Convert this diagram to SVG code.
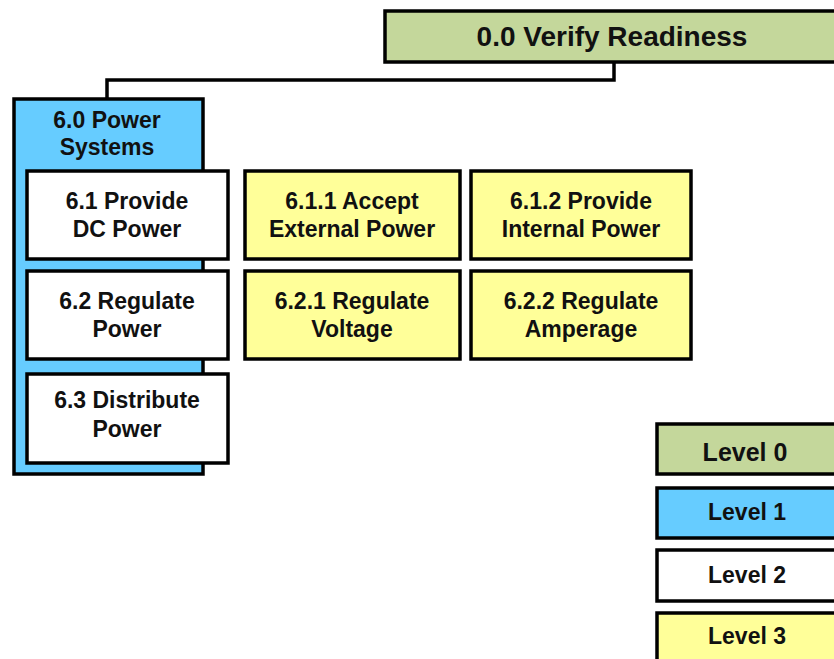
<svg xmlns="http://www.w3.org/2000/svg" width="834" height="659" viewBox="0 0 834 659">
<style>
rect{stroke:#000;stroke-width:3.5}
.l0{fill:#C4D79B}.l1{fill:#66CCFF}.l2{fill:#FFFFFF}.l3{fill:#FFFF99}
text{font-family:"Liberation Sans",Arial,sans-serif;font-weight:bold;font-size:23px;fill:#111;text-anchor:middle}
.big{font-size:28px}.lg{font-size:25px}
.conn{fill:none;stroke:#000;stroke-width:3.5}
</style>
<rect width="834" height="659" fill="#fff" style="stroke:none"/>
<g id="connectors">
<path class="conn" d="M614 62 V80 H107 V98"/>
</g>
<g id="n0">
<rect class="l0" x="385" y="11" width="460" height="51"/>
<text class="big" x="612" y="46">0.0 Verify Readiness</text>
</g>
<g id="n6">
<rect class="l1" x="14" y="99" width="189" height="375"/>
<text x="107" y="128">6.0 Power</text>
<text x="107" y="155">Systems</text>
</g>
<g id="n61">
<rect class="l2" x="27" y="171" width="201" height="88"/>
<text x="127" y="209">6.1 Provide</text>
<text x="127" y="237">DC Power</text>
</g>
<g id="n62">
<rect class="l2" x="27" y="271" width="201" height="88"/>
<text x="127" y="309">6.2 Regulate</text>
<text x="127" y="337">Power</text>
</g>
<g id="n63">
<rect class="l2" x="27" y="374" width="201" height="89"/>
<text x="127" y="408">6.3 Distribute</text>
<text x="127" y="437">Power</text>
</g>
<g id="n611">
<rect class="l3" x="245" y="171" width="215" height="88"/>
<text x="352" y="209">6.1.1 Accept</text>
<text x="352" y="237">External Power</text>
</g>
<g id="n612">
<rect class="l3" x="471" y="171" width="220" height="88"/>
<text x="581" y="209">6.1.2 Provide</text>
<text x="581" y="237">Internal Power</text>
</g>
<g id="n621">
<rect class="l3" x="245" y="271" width="215" height="88"/>
<text x="352" y="309">6.2.1 Regulate</text>
<text x="352" y="337">Voltage</text>
</g>
<g id="n622">
<rect class="l3" x="471" y="271" width="220" height="88"/>
<text x="581" y="309">6.2.2 Regulate</text>
<text x="581" y="337">Amperage</text>
</g>
<g id="legend">
<g id="lev0"><rect class="l0" x="657" y="424" width="190" height="50"/><text class="lg" x="745" y="461">Level 0</text></g>
<g id="lev1"><rect class="l1" x="657" y="488" width="190" height="50"/><text x="747" y="520">Level 1</text></g>
<g id="lev2"><rect class="l2" x="657" y="550" width="190" height="51"/><text x="747" y="583">Level 2</text></g>
<g id="lev3"><rect class="l3" x="657" y="613" width="190" height="60"/><text x="747" y="644">Level 3</text></g>
</g>
</svg>
